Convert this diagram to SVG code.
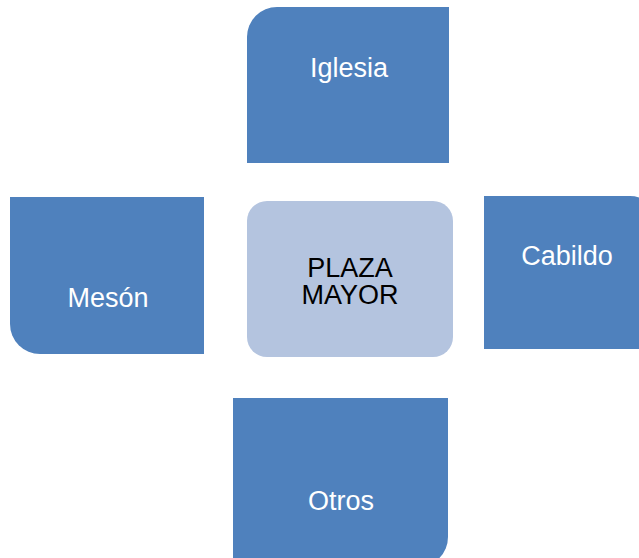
<svg xmlns="http://www.w3.org/2000/svg" width="639" height="558" viewBox="0 0 639 558">
<style>
.box{fill:#4f81bd;}
.center{fill:#b4c4df;}
.t{font-family:"Liberation Sans",Arial,sans-serif;font-size:27px;text-anchor:middle;}
.w{fill:#ffffff;}
.k{fill:#000000;}
</style>
<rect width="639" height="558" fill="#ffffff"/>
<g id="connectors"></g>
<g id="iglesia">
<path class="box" d="M247,37 A30,30 0 0 1 277,7 H449 V163 H247 Z"/>
<text class="t w" x="349" y="77">Iglesia</text>
</g>
<g id="meson">
<path class="box" d="M10,197 H204 V354 H40 A30,30 0 0 1 10,324 Z"/>
<text class="t w" x="108" y="307">Mesón</text>
</g>
<g id="cabildo">
<path class="box" d="M484,196 H630 A30,30 0 0 1 660,226 V349 H484 Z"/>
<text class="t w" x="567" y="265">Cabildo</text>
</g>
<g id="otros">
<path class="box" d="M233,398 H448 V537 A30,30 0 0 1 418,567 H233 Z"/>
<text class="t w" x="341" y="510">Otros</text>
</g>
<g id="plaza">
<rect class="center" x="247" y="201" width="206" height="156" rx="20" ry="20"/>
<text class="t k" x="350" y="277">PLAZA</text>
<text class="t k" x="350" y="304">MAYOR</text>
</g>
</svg>
